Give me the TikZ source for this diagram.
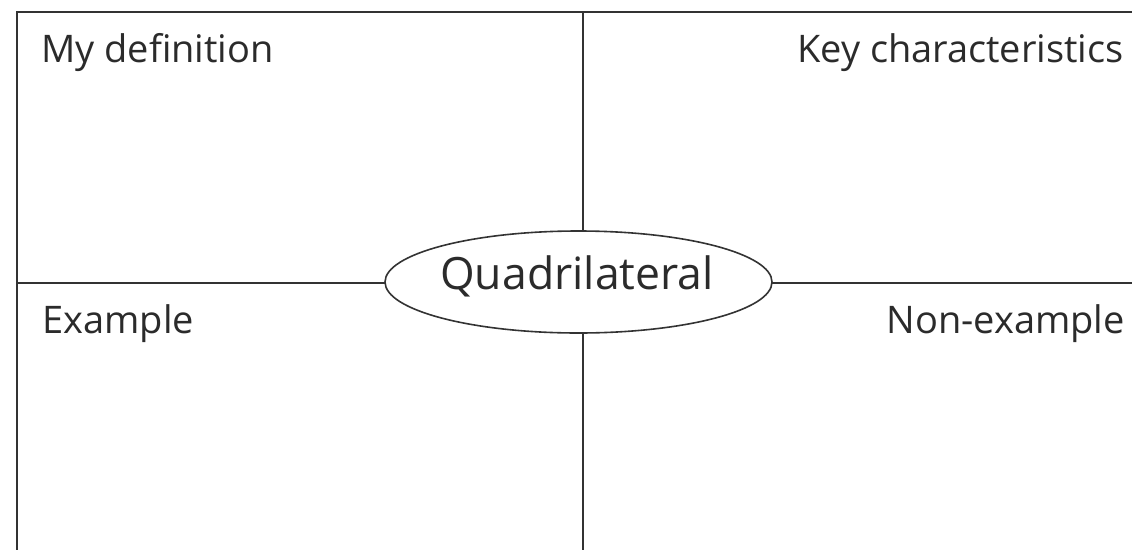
\documentclass[tikz,border=0pt]{standalone}
\usepackage{fontspec}
\setmainfont{Open Sans}
\usetikzlibrary{shapes.geometric}
\definecolor{ink}{HTML}{333333}
\definecolor{txt}{HTML}{2B2B2B}
\begin{document}
\begin{tikzpicture}[x=1pt,y=-1pt,
  gridline/.style={draw=ink,line width=2pt},
  lbl/.style={text=txt,font=\fontsize{38}{41}\selectfont,inner sep=0pt},
  centre/.style={ellipse,draw=ink,line width=1.6pt,fill=white,minimum width=387pt,minimum height=102pt,inner sep=0pt},
  centretext/.style={text=txt,font=\fontsize{44.5}{48}\selectfont,inner sep=0pt}]
\useasboundingbox (0,0) rectangle (1132,549);
\fill[white] (0,0) rectangle (1132,549);
\coordinate (tl) at (16.5,11.5);
\coordinate (tr) at (1133,11.5);
\coordinate (bl) at (16.5,550);
\coordinate (mt) at (583,11.5);
\coordinate (mb) at (583,550);
\coordinate (ml) at (16.5,282.5);
\coordinate (mr) at (1133,282.5);
\draw[gridline] (bl) -- (tl) -- (tr);
\draw[gridline] (mt) -- (mb);
\draw[gridline] (ml) -- (mr);
\node[centre] (q) at (578.5,282) {};
\node[centretext,anchor=base] (qt) at (577,289) {Quadrilateral};
\node[lbl,anchor=base west] (def) at (41,62) {My definition};
\node[lbl,anchor=base east] (key) at (1124,62) {Key characteristics};
\node[lbl,anchor=base west] (ex) at (42,333) {Example};
\node[lbl,anchor=base east] (nex) at (1125,333) {Non-example};
\end{tikzpicture}
\end{document}
